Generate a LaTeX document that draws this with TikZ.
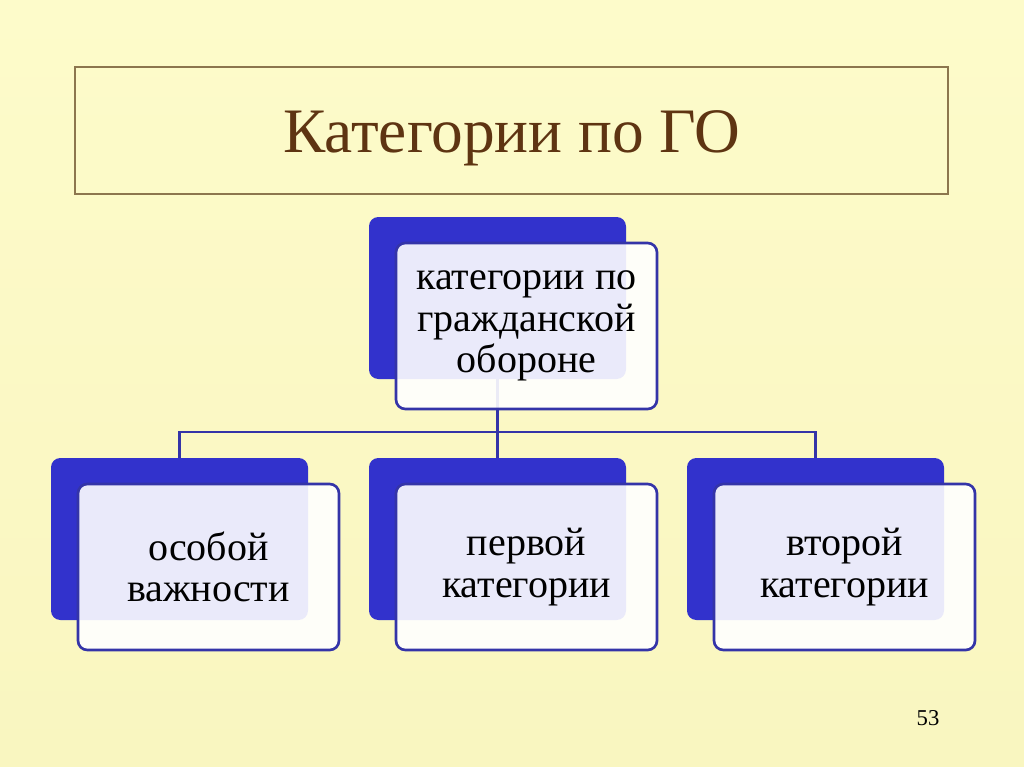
\documentclass[tikz,border=0pt]{standalone}
\usepackage{fontspec}
\setmainfont{Liberation Serif}
\usetikzlibrary{positioning}

\definecolor{paper}{RGB}{253,251,202}
\definecolor{paperlow}{RGB}{249,246,192}
\definecolor{titlebrown}{RGB}{94,52,18}
\definecolor{framebrown}{RGB}{140,118,78}
\definecolor{backblue}{RGB}{50,50,204}
\definecolor{edgeblue}{RGB}{52,52,168}

\tikzset{
  back/.style={fill=backblue, rounded corners=7pt, minimum width=192.75pt,
    minimum height=121.5pt, inner sep=0pt},
  front/.style={draw=edgeblue, line width=2pt, fill=white, fill opacity=0.9,
    text opacity=1, rounded corners=7pt, minimum width=195.75pt,
    minimum height=124.5pt, inner sep=0pt, align=center,
    font=\fontsize{30}{31}\selectfont},
  link/.style={draw=edgeblue, line width=2.2pt}
}

\begin{document}
\begin{tikzpicture}[x=0.75pt,y=-0.75pt,on grid]
 \shade[top color=paper, bottom color=paperlow] (0,0) rectangle (1024,767);
 \useasboundingbox (0,0) rectangle (1024,767);
 % title
 \node[draw=framebrown, line width=1.2pt, minimum width=654.75pt, minimum height=95.25pt]
   (titlebox) at (511.5,130.5) {};
 \node[text=titlebrown, font=\fontsize{47.5}{50}\selectfont] (title) at (512,138) {Категории по ГО};
 % back boxes
 \node[back] (bTop) at (497.5,298) {};
 \node[back] (b1)   at (179.5,539) {};
 \node[back] (b2)   at (497.5,539) {};
 \node[back] (b3)   at (815.5,539) {};
 % connectors
 \coordinate (bus) at (497.5,432);
 \draw[link] (bTop.south) -- (bus);
 \draw[link] (b1.north) -- (b1.north |- bus) -- (b3.north |- bus) -- (b3.north);
 \draw[link] (bus) -- (b2.north);
 % front boxes
 \node[front] (fTop) [below right=21pt and 21.75pt of bTop] {категории по\\гражданской\\обороне};
 \node[front] (f1)   [below right=21pt and 21.75pt of b1] {особой\\важности};
 \node[front] (f2)   [below right=21pt and 21.75pt of b2] {первой\\категории};
 \node[front] (f3)   [below right=21pt and 21.75pt of b3] {второй\\категории};
 % page number
 \node[font=\fontsize{17}{19}\selectfont] (page) at (928,718) {53};
\end{tikzpicture}
\end{document}
